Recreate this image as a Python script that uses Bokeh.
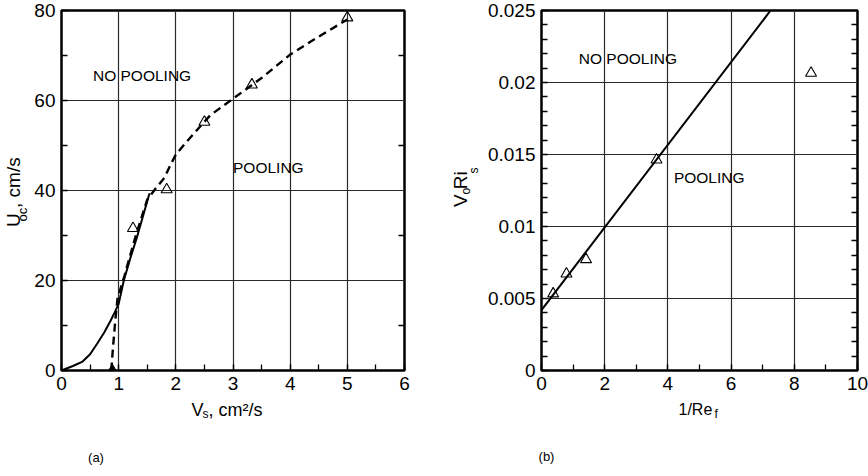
import math
from bokeh.plotting import figure
from bokeh.models import (LinearAxis, SingleIntervalTicker, FixedTicker, Range1d, Label,
                          NumeralTickFormatter)
from bokeh.layouts import row
from bokeh.embed import file_html
from bokeh.resources import INLINE

# ---------------- data: panel (a) ----------------
vs_open = [1.25, 1.84, 2.5, 3.33, 5.0]
uoc_open = [31.6, 40.2, 55.2, 63.5, 78.4]
vs_filled = [0.89]
uoc_filled = [0.0]
vs_solid = [0.0, 0.2, 0.36, 0.5, 0.62, 0.75, 0.86, 0.93, 1.0, 1.09, 1.2, 1.32, 1.43, 1.54]
uoc_solid = [0.0, 1.0, 1.9, 3.6, 5.9, 8.5, 11.1, 12.9, 14.8, 20.0, 24.8, 29.6, 34.5, 39.4]
vs_dash = [0.87, 0.9, 0.94, 0.98, 1.1, 1.3, 1.5, 1.65, 1.8, 1.9, 2.0, 2.2, 2.6, 3.0, 3.5, 4.0, 4.5, 5.0]
uoc_dash = [0.0, 5.0, 11.0, 16.0, 21.0, 30.0, 38.0, 40.5, 42.8, 45.5, 48.0, 51.0, 56.7, 60.4, 65.0, 70.2, 74.2, 78.0]
a_minor_y = [10, 30, 50, 70]

# ---------------- data: panel (b) ----------------
inv_re = [0.37, 0.79, 1.41, 3.64, 8.53]
vori = [0.00533, 0.00671, 0.00771, 0.01463, 0.02065]
fit_x = [0.0, 7.25]
fit_y = [0.0042, 0.025]
b_minor_y = [0.001, 0.002, 0.003, 0.004, 0.006, 0.007, 0.008, 0.009, 0.011, 0.012, 0.013,
             0.014, 0.016, 0.017, 0.018, 0.019, 0.021, 0.022, 0.023, 0.024]

FONT = "Liberation Sans"
A = math.pi / 2


def make_fig(width, mbl, mbr, xr, yr, xint, yint, y_minor, x_minor, right_minor):
    p = figure(width=width, height=476, x_range=Range1d(*xr), y_range=Range1d(*yr),
               output_backend="svg", toolbar_location=None,
               min_border_left=mbl, min_border_right=mbr,
               min_border_top=10, min_border_bottom=106)
    p.background_fill_color = "white"
    p.border_fill_color = "white"
    p.outline_line_color = "black"
    p.outline_line_width = 2.5
    xt = SingleIntervalTicker(interval=xint, num_minor_ticks=x_minor)
    yt = SingleIntervalTicker(interval=yint, num_minor_ticks=y_minor)
    p.xaxis.ticker = xt
    p.yaxis.ticker = yt
    p.xgrid.ticker = xt
    p.ygrid.ticker = yt
    for g in (p.xgrid, p.ygrid):
        g.grid_line_color = "#2a2a2a"
        g.grid_line_width = 1.2
    for ax in (p.xaxis, p.yaxis):
        ax.axis_line_color = None
        ax.major_tick_in = 6
        ax.major_tick_out = 0
        ax.minor_tick_in = 6
        ax.minor_tick_out = 0
        ax.major_tick_line_color = "black"
        ax.minor_tick_line_color = "black"
        ax.major_tick_line_width = 1.2
        ax.minor_tick_line_width = 1.3
        ax.major_label_text_font = FONT
        ax.major_label_text_font_size = "19px"
        ax.major_label_text_color = "black"
        ax.major_label_standoff = 6
    ry = LinearAxis(ticker=FixedTicker(ticks=[], minor_ticks=right_minor),
                    axis_line_color=None, major_tick_in=0, major_tick_out=0,
                    minor_tick_in=6, minor_tick_out=0,
                    minor_tick_line_color="black", minor_tick_line_width=1.3)
    p.add_layout(ry, "right")
    return p


def side(p, place, sx, sy, text, size, angle=0.0, align="left", baseline="alphabetic"):
    """Text in a side panel; sx/sy are pixel offsets inside its own panel slot."""
    p.add_layout(Label(x=sx, y=sy, x_units="screen", y_units="screen", text=text,
                       angle=angle, text_font=FONT, text_font_size=size,
                       text_color="black", text_align=align, text_baseline=baseline),
                 place)


def dlab(p, x, y, text, size):
    p.add_layout(Label(x=x, y=y, text=text, text_font=FONT, text_font_size=size,
                       text_color="black", text_align="left", text_baseline="middle"))


# ---------------- panel (a) ----------------
pa = make_fig(440, 61, 36, (0, 6), (0, 80), 1, 20, 2, 2, a_minor_y)
pa.line(vs_solid, uoc_solid, line_color="black", line_width=2)
pa.line(vs_dash, uoc_dash, line_color="black", line_width=2.4, line_dash="8 5")
pa.scatter(vs_open, uoc_open, marker="triangle", size=11, fill_color=None,
           line_color="black", line_width=1.1)
pa.scatter(vs_filled, uoc_filled, marker="triangle", size=11, fill_color="black",
           line_color="black")
dlab(pa, 0.55, 65.6, "NO POOLING", "15.5px")
dlab(pa, 3.0, 45.2, "POOLING", "15.5px")

# y title  U_oc , cm/s   (main part in the left panel, subscript via the below panel)
side(pa, "left", 3, 143.5, "U   , cm/s", "19px", angle=A)
# x title  V_s , cm²/s   and caption
side(pa, "below", 130, 2.3, "V  , cm²/s", "18px")
side(pa, "below", 141, 12.7, "s", "12px")
side(pa, "below", 34.5, -15.8, "(a)", "13px", align="center", baseline="middle")
side(pa, "below", -39, 234, "oc", "13px", angle=A)

# ---------------- panel (b) ----------------
pb = make_fig(428, 101, 11, (0, 10), (0, 0.025), 2, 0.005, 5, 2, b_minor_y)
pb.yaxis[0].formatter = NumeralTickFormatter(format="0.[000]")
pb.line(fit_x, fit_y, line_color="black", line_width=2)
pb.scatter(inv_re, vori, marker="triangle", size=11, fill_color=None,
           line_color="black", line_width=1.1)
dlab(pb, 1.18, 0.0217, "NO POOLING", "15.5px")
dlab(pb, 4.19, 0.01342, "POOLING", "15.5px")

# y title  V_o Ri_s
side(pb, "left", -2.8, 163.4, "V  Ri", "19px", angle=A)
side(pb, "left", 16.6, 176.1, "o", "12px", angle=A)
# x title  1/Re_f  and caption
side(pb, "below", 137, 0.1, "1/Re", "16px")
side(pb, "below", 173, 9.5, "f", "12px")
side(pb, "below", 5, -18, "(b)", "13px", align="center", baseline="middle")
side(pb, "below", -68, 271, "s", "12px", angle=A)

layout = row(pa, pb, spacing=0)
open("out.html", "w").write(file_html(layout, INLINE))
